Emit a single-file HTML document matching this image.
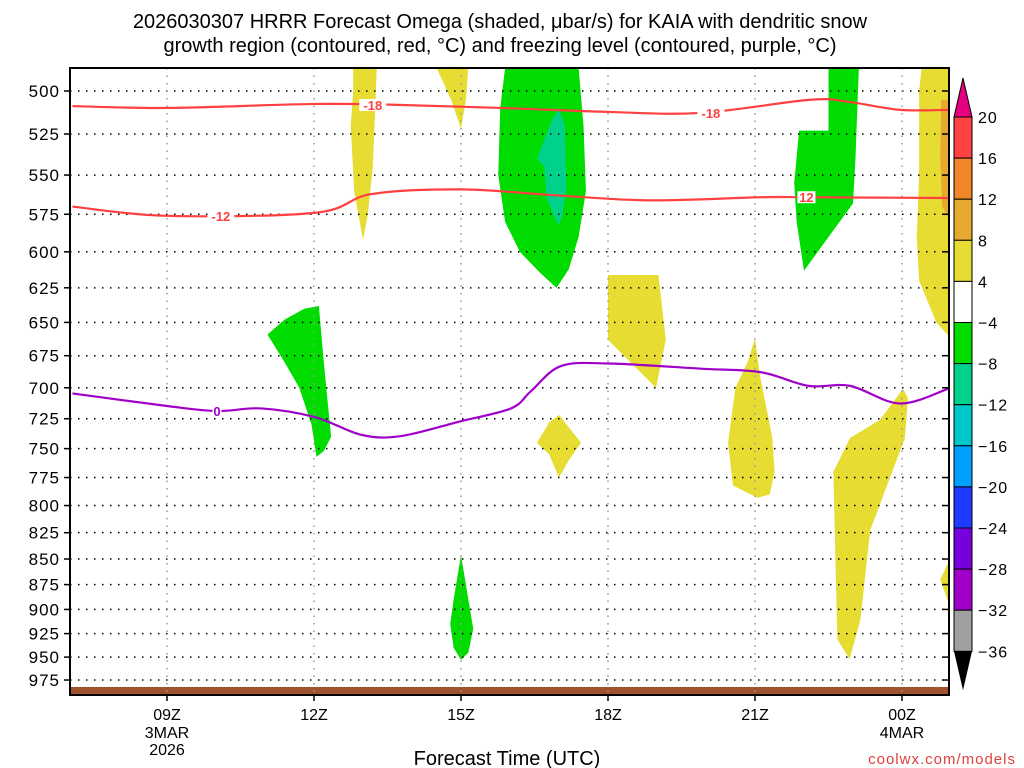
<!DOCTYPE html>
<html><head><meta charset="utf-8"><style>
body{margin:0;background:#fff;width:1024px;height:768px;overflow:hidden}
svg{display:block;font-family:"Liberation Sans",sans-serif}
</style></head><body>
<svg id="chart" width="1024" height="768" viewBox="0 0 1024 768">
<g font-size="20" text-anchor="middle" fill="#000">
<text x="500" y="28">2026030307 HRRR Forecast Omega (shaded, μbar/s) for KAIA with dendritic snow</text>
<text x="500" y="52">growth region (contoured, red, °C) and freezing level (contoured, purple, °C)</text>
</g>
<g id="fills"></g><g id="grid"></g><g id="lines"></g><g id="axes"></g><g id="cbar"></g>
<text x="507" y="765" font-size="20" text-anchor="middle">Forecast Time (UTC)</text>
<text x="1016" y="764" font-size="15" text-anchor="end" fill="#e04040" letter-spacing="1">coolwx.com/models</text>
</svg>
<script>
const pTicks=[500,525,550,575,600,625,650,675,700,725,750,775,800,825,850,875,900,925,950,975];
const hTicks=[9,12,15,18,21,24];
const hLabels=["09Z","12Z","15Z","18Z","21Z","00Z"];
const hSub=[["3MAR","2026"],[],[],[],[],["4MAR"]];
const cbLevels=[20,16,12,8,4,-4,-8,-12,-16,-20,-24,-28,-32,-36];
const cbColors=["#ff4242","#f0852a","#e6aa30","#e6dc32","#ffffff","#00dc00","#00d28c","#00c8c8","#00a0ff","#1e3cff","#7800dc","#a000c8","#a0a0a0"];
const shapeColors=["#e6dc32","#e6dc32","#00dc00","#00d28c","#e6dc32","#00dc00","#00dc00","#e6dc32","#e6aa30","#e6dc32","#e6dc32","#e6dc32","#e6dc32","#00dc00"];
const shapes=[
[[12.8,487],[13.28,487],[13.25,510],[13.2,545],[13.1,575],[13.0,592],[12.82,560],[12.75,520],[12.8,500]],
[[14.5,487],[15.15,487],[15.1,505],[15.0,522],[14.8,505]],
[[15.9,487],[17.4,487],[17.5,520],[17.55,560],[17.4,590],[17.2,612],[16.95,625],[16.6,614],[16.2,600],[15.9,580],[15.76,550],[15.8,510]],
[[16.55,540],[16.85,517],[17.0,510],[17.12,520],[17.15,560],[17.05,578],[16.98,582],[16.75,565],[16.7,545]],
[[18.0,616],[19.03,616],[19.18,663],[18.98,700],[18.0,663]],
[[11.05,659],[11.4,648],[11.8,640],[12.1,638],[12.2,680],[12.3,720],[12.35,740],[12.2,752],[12.05,757],[11.95,730],[11.7,700],[11.4,680]],
[[22.5,487],[23.12,487],[23.05,540],[23.0,568],[22.5,590],[22.0,613],[21.85,580],[21.8,555],[21.9,523],[22.5,523]],
[[24.4,487],[25,487],[25,662],[24.7,650],[24.35,620],[24.3,590],[24.35,550],[24.35,500]],
[[24.8,505],[25,505],[25,580],[24.82,570],[24.78,540]],
[[21.0,662],[21.1,690],[21.35,740],[21.4,770],[21.3,790],[21.05,793],[20.55,782],[20.45,745],[20.6,700],[20.85,680]],
[[16.55,745],[16.8,728],[17.0,722],[17.45,745],[17.2,760],[17.0,775],[16.8,755]],
[[22.6,770],[22.94,741],[23.55,726],[24.02,701],[24.12,708],[24.06,741],[23.66,786],[23.35,823],[23.15,911],[22.93,952],[22.68,931]],
[[24.78,870],[25,848],[25,900]],
[[15.0,846],[15.15,890],[15.25,920],[15.15,945],[15.0,953],[14.85,940],[14.78,915],[14.85,890]]
];
const line18H=[7.07,9,12.03,13.8,15.82,18.02,19.89,22.13,22.94,23.96,24.96];
const line18P=[508.6,509.7,507.4,508,509.7,512,512.6,505,506.3,510.8,510.8];
const line12H=[7.07,9,12.03,13.17,15,17.04,18.87,21.11,22.09,24.96];
const line12P=[570,576,574,562,559,563,566,564,564,564.5];
const line0H=[7.07,9,10.02,10.93,12.03,12.97,13.78,15,16.02,16.43,17.04,18.02,19.89,21.11,22.09,22.94,23.96,24.96];
const line0P=[704.5,714.6,718.7,716.6,723.8,738.4,739.4,727,716.6,702.6,683,681,685,687.7,698.5,698.5,712.6,700.5];
const labels18=[[13.2,508,"-18"],[20.1,512.6,"-18"]];
const labels12=[[10.1,576,"-12"],[22.05,564,"12"]];
const labels0=[[10.02,718.7,"0"]];

const X0=70,X1=949,Y0=68,Y1=695;
const xs=h=>167+(h-9)*49;
const ys=p=>91+882*Math.log(p/500);
const NS="http://www.w3.org/2000/svg";
function mk(tag,attrs,parent){const e=document.createElementNS(NS,tag);for(const k in attrs)e.setAttribute(k,attrs[k]);parent.appendChild(e);return e;}
const clip=mk("clipPath",{id:"pc"},document.getElementById("chart"));
mk("rect",{x:X0,y:Y0,width:X1-X0,height:Y1-Y0},clip);
const fills=document.getElementById("fills");fills.setAttribute("clip-path","url(#pc)");
shapes.forEach((s,i)=>{
 const e=mk("polygon",{points:s.map(q=>xs(q[0])+","+ys(q[1])).join(" "),fill:shapeColors[i]},fills);
 
 
});
const ground=mk("rect",{x:X0,y:687,width:X1-X0,height:8,fill:"#a0522d"},fills);


const grid=document.getElementById("grid");
pTicks.forEach(p=>{
 const g=mk("line",{x1:X0,x2:X1,y1:ys(p),y2:ys(p),stroke:"#000","stroke-width":1.5,"stroke-dasharray":"1.5 6.5"},grid);
 
 
});
hTicks.forEach(h=>{
 const g=mk("line",{x1:xs(h),x2:xs(h),y1:Y0,y2:Y1,stroke:"#999","stroke-width":1.5,"stroke-dasharray":"1.5 6"},grid);
 
 
});
const lines=document.getElementById("lines");lines.setAttribute("clip-path","url(#pc)");
function smoothPath(pts){
 let d="M"+pts[0][0]+","+pts[0][1];
 for(let i=0;i<pts.length-1;i++){
  const p0=pts[Math.max(0,i-1)],p1=pts[i],p2=pts[i+1],p3=pts[Math.min(pts.length-1,i+2)];
  const c1=[p1[0]+(p2[0]-p0[0])/6,p1[1]+(p2[1]-p0[1])/6];
  const c2=[p2[0]-(p3[0]-p1[0])/6,p2[1]-(p3[1]-p1[1])/6];
  d+=" C"+c1[0]+","+c1[1]+" "+c2[0]+","+c2[1]+" "+p2[0]+","+p2[1];
 }
 return d;
}
function drawLine(H,P,color,name){
 const pts=H.map((h,i)=>[xs(h),ys(P[i])]);
 const e=mk("path",{d:smoothPath(pts),fill:"none",stroke:color,"stroke-width":2.2,"stroke-linejoin":"round"},lines);
 
 
}
drawLine(line18H,line18P,"#ff4040","contour-minus18");
drawLine(line12H,line12P,"#ff4040","contour-minus12");
drawLine(line0H,line0P,"#a000c8","freezing-level-0");
function drawLabels(L,color){L.forEach(l=>{
 const x=xs(l[0]),y=ys(l[1]);
 mk("rect",{x:x-l[2].length*4.5,y:y-6,width:l[2].length*9,height:12,fill:"#fff"},lines);
 const t=mk("text",{x:x,y:y+5,"font-size":13,"font-weight":"bold","text-anchor":"middle",fill:color},lines);
 t.textContent=l[2];
 
 
});}
drawLabels(labels18,"#ff4040");drawLabels(labels12,"#ff4040");drawLabels(labels0,"#a000c8");
const axes=document.getElementById("axes");
const fr=mk("rect",{x:X0,y:Y0,width:X1-X0,height:Y1-Y0,fill:"none",stroke:"#000","stroke-width":2},axes);


pTicks.forEach(p=>{
 mk("line",{x1:X0-6,x2:X0,y1:ys(p),y2:ys(p),stroke:"#000","stroke-width":1.5},axes);
 mk("line",{x1:X1-6,x2:X1,y1:ys(p),y2:ys(p),stroke:"#000","stroke-width":1.5},axes);
 const t=mk("text",{x:60,y:ys(p)+6,"font-size":17,"text-anchor":"end","letter-spacing":"1"},axes);
 t.textContent=p;
 
 
});
hTicks.forEach((h,i)=>{
 mk("line",{x1:xs(h),x2:xs(h),y1:Y1,y2:Y1+6,stroke:"#000","stroke-width":1.5},axes);
 const t=mk("text",{x:xs(h),y:720,"font-size":16,"text-anchor":"middle"},axes);
 t.textContent=hLabels[i];
 
 
 hSub[i].forEach((s,j)=>{
  const u=mk("text",{x:xs(h),y:738+j*17,"font-size":16,"text-anchor":"middle"},axes);
  u.textContent=s;
  
  
 });
});
const cb=document.getElementById("cbar");
const cbTop=117,cbStep=41.1,cx0=954,cx1=972;
const up=mk("polygon",{points:`${cx0},${cbTop} ${cx1},${cbTop} ${(cx0+cx1)/2},78`,fill:"#e6007f",stroke:"#000","stroke-width":1},cb);


cbColors.forEach((c,i)=>{
 const r=mk("rect",{x:cx0,y:cbTop+i*cbStep,width:cx1-cx0,height:cbStep,fill:c,stroke:"#000","stroke-width":1},cb);
 
 
});
const cbBot=cbTop+cbColors.length*cbStep;
const dn=mk("polygon",{points:`${cx0},${cbBot} ${cx1},${cbBot} ${(cx0+cx1)/2},${cbBot+39}`,fill:"#000"},cb);


cbLevels.forEach((v,i)=>{
 const t=mk("text",{x:978,y:cbTop+i*cbStep+6,"font-size":16,"letter-spacing":"1"},cb);
 t.textContent=v<0?"\u2212"+(-v):v;
 
 
});
</script>
</body></html>
